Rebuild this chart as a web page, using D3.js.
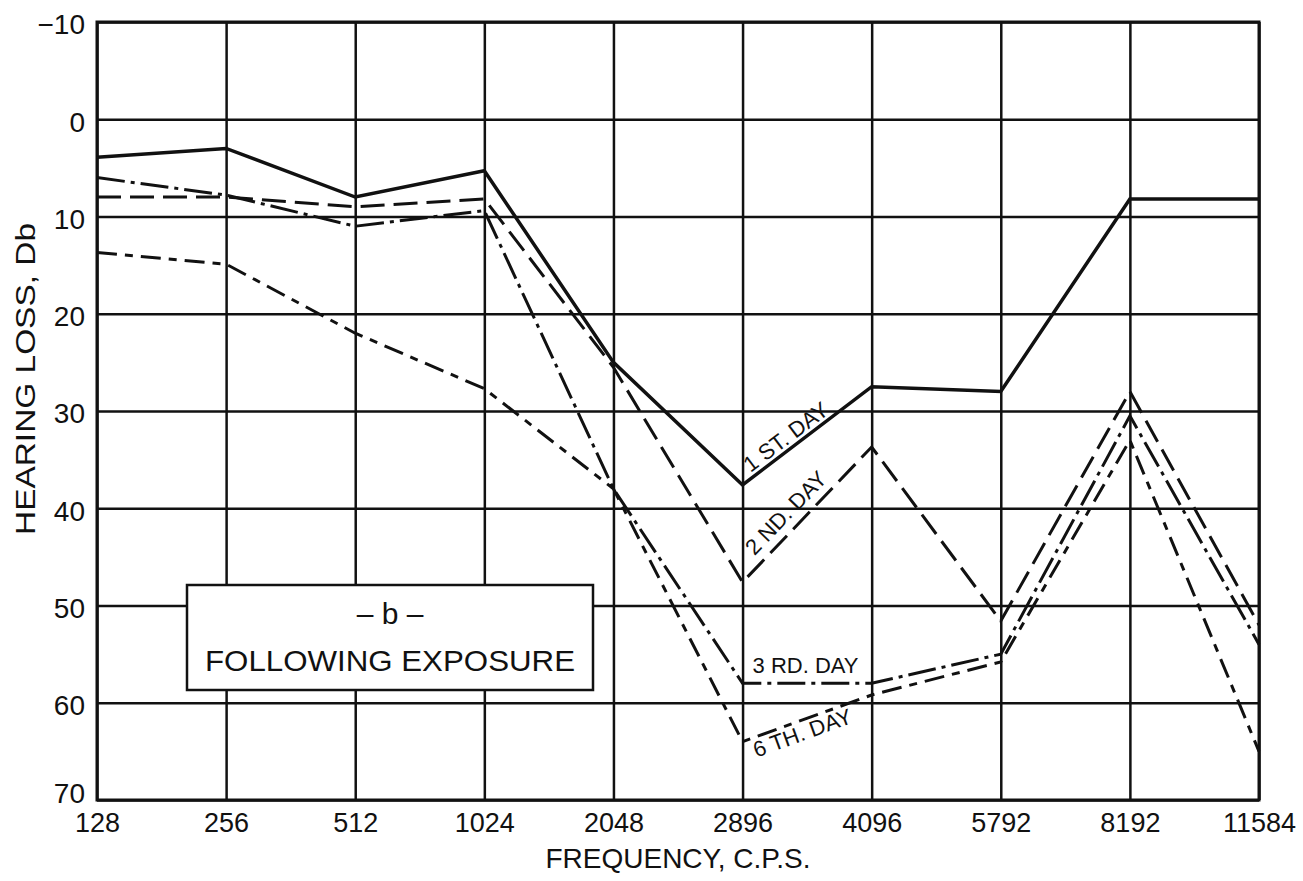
<!DOCTYPE html>
<html>
<head>
<meta charset="utf-8">
<script src="https://cdnjs.cloudflare.com/ajax/libs/d3/7.8.5/d3.min.js"></script>
<style>
  body { margin: 0; background: #fff; }
  text { font-family: "Liberation Sans", Arial, sans-serif; fill: #111; }
</style>
</head>
<body>
<div id="chart"></div>
<script>
// audiogram, hearing loss after exposure
var frequencies = ["128", "256", "512", "1024", "2048", "2896", "4096", "5792", "8192", "11584"];
var yTicks = [-10, 0, 10, 20, 30, 40, 50, 60, 70];

var day1 = [3.9, 3, 8, 5.3, 25, 37.6, 27.5, 28, 8.2, 8.2];
var day2 = [8, 8, 9, 8.2, 25.5, 47.6, 33.7, 51.6, 28, 52];
var day3 = [6, 7.8, 11, 9.4, 38, 58, 58, 55, 30.5, 54];
var day6 = [13.7, 14.9, 22, 27.7, 38, 64, 59.2, 55.8, 33, 65];

var seriesNames = ["1 ST. DAY", "2 ND. DAY", "3 RD. DAY", "6 TH. DAY"];

var cfg = {
  w: 1303,
  h: 881,
  left: 97,
  right: 1259,
  top: 22,
  bottom: 800
};

var styles = [
  { width: 3.5, dash: null },
  { width: 3, dash: "24,9" },
  { width: 3, dash: "28,6,4,6" },
  { width: 3, dash: "20,8,8,8" }
];

var svg = d3.select("#chart").append("svg")
  .attr("width", cfg.w)
  .attr("height", cfg.h);

svg.append("rect").attr("width", cfg.w).attr("height", cfg.h).attr("fill", "#fff");

var x = d3.scalePoint().domain(frequencies).range([cfg.left, cfg.right]);
var y = d3.scaleLinear().domain([-10, 70]).range([cfg.top, cfg.bottom]);

// grid via axes
var yAxis = svg.append("g")
  .attr("transform", "translate(" + cfg.left + ",0)")
  .call(d3.axisLeft(y).tickValues(yTicks).tickSize(-(cfg.right - cfg.left)).tickPadding(12).tickFormat(d3.format("d")));
yAxis.select(".domain").remove();
yAxis.selectAll("line").attr("stroke", "#111").attr("stroke-width", 2.5);
yAxis.selectAll("text")
  .attr("font-size", "28px")
  .attr("font-family", "Liberation Sans, Arial, sans-serif")
  .attr("fill", "#111")
  .attr("dy", function(d) { return d === 70 ? "0.1em" : "0.42em"; });

var xAxis = svg.append("g")
  .attr("transform", "translate(0," + cfg.bottom + ")")
  .call(d3.axisBottom(x).tickSize(-(cfg.bottom - cfg.top)).tickPadding(13));
xAxis.select(".domain").remove();
xAxis.selectAll("line").attr("stroke", "#111").attr("stroke-width", 2.5);
xAxis.selectAll("text")
  .attr("font-size", "27px")
  .attr("font-family", "Liberation Sans, Arial, sans-serif")
  .attr("fill", "#111");

// outer frame
svg.append("rect")
  .attr("x", cfg.left).attr("y", cfg.top)
  .attr("width", cfg.right - cfg.left).attr("height", cfg.bottom - cfg.top)
  .attr("fill", "none").attr("stroke", "#111").attr("stroke-width", 3);

// axis titles
svg.append("text")
  .attr("transform", "translate(" + 26 + "," + 379 + ") rotate(-90)")
  .attr("text-anchor", "middle")
  .attr("dominant-baseline", "central")
  .attr("font-size", "27px")
  .attr("textLength", 312)
  .attr("lengthAdjust", "spacingAndGlyphs")
  .text("HEARING LOSS, Db");

svg.append("text")
  .attr("x", (cfg.left + cfg.right) / 2)
  .attr("y", 858)
  .attr("text-anchor", "middle")
  .attr("dominant-baseline", "central")
  .attr("font-size", "28px")
  .text("FREQUENCY, C.P.S.");

// label box
var box = svg.append("g");
box.append("rect")
  .attr("x", 187).attr("y", 585)
  .attr("width", 406).attr("height", 105)
  .attr("fill", "#fff").attr("stroke", "#111").attr("stroke-width", 2.5);
box.append("text")
  .attr("x", 390).attr("y", 613)
  .attr("text-anchor", "middle").attr("dominant-baseline", "central")
  .attr("font-size", "30px")
  .text("– b –");
box.append("text")
  .attr("x", 390).attr("y", 660)
  .attr("text-anchor", "middle").attr("dominant-baseline", "central")
  .attr("font-size", "30px")
  .attr("textLength", 370)
  .attr("lengthAdjust", "spacingAndGlyphs")
  .text("FOLLOWING EXPOSURE");

// data lines
var line = d3.line()
  .x(function(d, i) { return x(frequencies[i]); })
  .y(function(d) { return y(d); });

[day1, day2, day3, day6].forEach(function(s, k) {
  svg.append("path")
    .datum(s)
    .attr("d", line)
    .attr("fill", "none")
    .attr("stroke", "#111")
    .attr("stroke-width", styles[k].width)
    .attr("stroke-dasharray", styles[k].dash)
    .attr("stroke-linejoin", "miter");
});

// series annotations along the lines near 2896
var xi = x("2896");
var notes = [
  { text: seriesNames[0], x: xi + 8, y: y(day1[5]) - 12, rot: -37 },
  { text: seriesNames[1], x: xi + 12, y: y(day2[5]) - 26, rot: -46 },
  { text: seriesNames[2], x: xi + 10, y: y(day3[5]) - 10, rot: 0 },
  { text: seriesNames[3], x: xi + 14, y: y(day6[5]) + 16, rot: -20 }
];
notes.forEach(function(n) {
  svg.append("text")
    .attr("transform", "translate(" + n.x + "," + n.y + ") rotate(" + n.rot + ")")
    .attr("font-size", "22px")
    .text(n.text);
});
</script>
</body>
</html>
